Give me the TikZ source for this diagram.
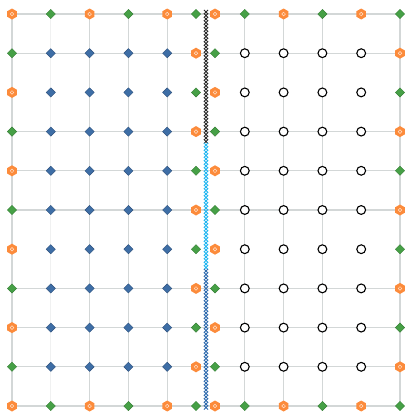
\documentclass[tikz,border=0pt]{standalone}
\usetikzlibrary{shapes.geometric,backgrounds}
\definecolor{hexorange}{HTML}{FC8B3B}
\definecolor{dgreen}{HTML}{46A046}
\definecolor{dblue}{HTML}{3E6EA6}
\definecolor{mkblack}{HTML}{2A2A2A}
\definecolor{mkcyan}{HTML}{22B6F0}
\definecolor{mkblue}{HTML}{2F6BAE}
\definecolor{gridgray}{HTML}{D3D7D7}
\begin{document}
\begin{tikzpicture}[x=1bp,y=-1bp,
  hexnode/.style={regular polygon, regular polygon sides=6, shape border rotate=30,
    fill=hexorange, inner sep=0pt, minimum size=11bp,
    path picture={\draw[white,line width=0.5bp,opacity=0.75] (path picture bounding box.center) circle (1.8bp);}},
  gdia/.style={diamond, aspect=1, inner sep=0pt, minimum size=9.4bp, fill=dgreen, draw=dgreen!80!black, line width=0.4bp},
  bdia/.style={diamond, aspect=1, inner sep=0pt, minimum size=9.4bp, fill=dblue, draw=dblue!75!black, line width=0.4bp},
  qcirc/.style={circle, inner sep=0pt, minimum size=8.8bp, fill=white, draw=black, line width=1.1bp},
  gridline/.style={draw=gridgray, line width=1.3bp},
  faintline/.style={draw=gridgray!35, line width=1bp},
  xmark/.style={line width=0.9bp}]
\useasboundingbox (0,0) rectangle (407,415);
% left patch
\foreach \i in {0,...,10} {
  \foreach \j in {0,...,5} {
    \pgfmathsetmacro\xx{\j==5 ? 196 : 12+38.8*\j}
    \pgfmathsetmacro\yy{14+39.2*\i}
    \pgfmathtruncatemacro\bd{(\i==0)||(\i==10)||(\j==0)||(\j==5)}
    \pgfmathtruncatemacro\pp{mod(\i+\j,2)}
    \ifnum\bd=1 \ifnum\pp=0 \def\st{hexnode}\else\def\st{gdia}\fi \else \def\st{bdia}\fi
    \node[\st] (L-\i-\j) at (\xx,\yy) {};
  }
}
% right patch
\foreach \i in {0,...,10} {
  \foreach \j in {0,...,5} {
    \pgfmathsetmacro\xx{\j==0 ? 215 : 206+38.8*\j}
    \pgfmathsetmacro\yy{14+39.2*\i}
    \pgfmathtruncatemacro\bd{(\i==0)||(\i==10)||(\j==0)||(\j==5)}
    \pgfmathtruncatemacro\pp{mod(\i+\j,2)}
    \ifnum\bd=1 \ifnum\pp=0 \def\st{hexnode}\else\def\st{gdia}\fi \else \def\st{qcirc}\fi
    \node[\st] (R-\i-\j) at (\xx,\yy) {};
  }
}
\begin{pgfonlayer}{background}
  \foreach \i in {0,1,3,4,5,7,8,9,10} {
    \draw[gridline] (L-\i-0.center) -- (R-\i-5.center);
  }
  \foreach \j in {0,2,3,4} {
    \draw[gridline] (L-0-\j.center) -- (L-10-\j.center);
  }
  \draw[faintline] (L-0-1.center) -- (L-10-1.center);
  \foreach \j in {1,2,3,5} {
    \draw[gridline] (R-0-\j.center) -- (R-10-\j.center);
  }
\end{pgfonlayer}
% separator of x markers
\foreach \k in {0,...,37} {
  \pgfmathsetmacro\yy{12+3.5*\k}
  \draw[xmark,mkblack] (203.9,\yy-2.1) -- (208.1,\yy+2.1) (203.9,\yy+2.1) -- (208.1,\yy-2.1);
}
\foreach \k in {38,...,73} {
  \pgfmathsetmacro\yy{12+3.5*\k}
  \draw[xmark,mkcyan] (203.9,\yy-2.1) -- (208.1,\yy+2.1) (203.9,\yy+2.1) -- (208.1,\yy-2.1);
}
\foreach \k in {74,...,113} {
  \pgfmathsetmacro\yy{12+3.5*\k}
  \draw[xmark,mkblue] (203.9,\yy-2.1) -- (208.1,\yy+2.1) (203.9,\yy+2.1) -- (208.1,\yy-2.1);
}
\end{tikzpicture}
\end{document}
